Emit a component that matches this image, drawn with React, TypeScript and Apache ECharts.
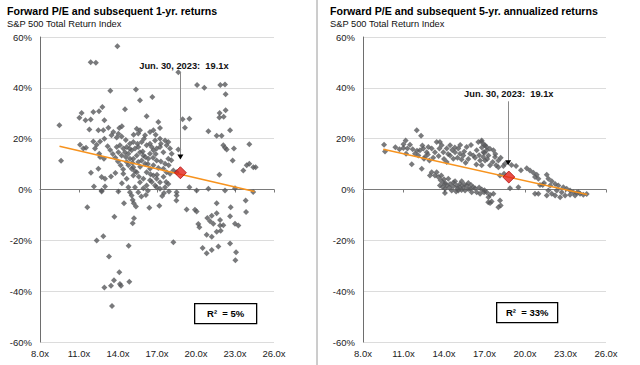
import React, { useEffect, useRef } from "react";
import * as echarts from "echarts";

const FONT = 'Arial, "Liberation Sans", Helvetica, sans-serif';

const titles = [
  "Forward P/E and subsequent 1-yr. returns",
  "Forward P/E and subsequent 5-yr. annualized returns",
];
const subtitle = "S&P 500 Total Return Index";
const annotationText = "Jun. 30, 2023:  19.1x";
const rSquaredLabels = ["R\u00B2  = 5%", "R\u00B2  = 33%"];

const xMin = 8;
const xMax = 26;
const xStep = 3;
const yMin = -60;
const yMax = 60;
const yStep = 20;

// Forward P/E vs subsequent 1-yr return (%)
const left1yr: [number, number][] = [
  [13.95, 56.4], [11.9, 50.1], [12.3, 49.9], [18.64, 46.1], [20.08, 41.1], [20.64, 40.0],
  [21.87, 41.1], [22.23, 41.3], [22.28, 37.5], [13.41, 38.9], [15.38, 39.3], [15.69, 35.1],
  [16.64, 36.4], [14.54, 31.6], [12.8, 32.5], [12.54, 30.8], [12.1, 30.5], [11.2, 30.1],
  [11.03, 28.2], [11.9, 27.5], [12.95, 27.2], [16.2, 28.8], [18.97, 27.6], [19.49, 27.8],
  [22.28, 31.2], [21.82, 30.1], [21.8, 28.3], [22.13, 28.6],
  [9.49, 25.3], [9.62, 11.3], [11.5, 27.2],
  [11.8, 23.6], [12.49, 23.3], [12.87, 23.3], [13.26, 24.3], [13.64, 22.6], [14.1, 24.2],
  [14.3, 24.9], [14.03, 21.9], [14.28, 20.9], [13.5, 21.3],
  [12.95, 20.0], [12.62, 18.9], [12.1, 18.9], [12.36, 17.6], [12.23, 16.1], [11.33, 16.1],
  [11.08, 17.6], [11.54, 16.4], [12.56, 14.1], [12.62, 12.8], [12.92, 12.1],
  [11.92, 6.6], [12.49, 8.2], [12.74, 4.9], [13.0, 4.2], [13.46, 5.1], [13.0, 1.2],
  [12.15, 1.2], [12.74, -0.4],
  [13.9, 16.7], [14.15, 17.4], [14.41, 16.1], [14.67, 16.7], [14.92, 18.0], [15.18, 18.7],
  [14.54, 14.7], [14.8, 14.1], [15.05, 15.4], [15.31, 16.1], [15.56, 16.7], [15.69, 14.7],
  [15.95, 13.4], [15.44, 13.4], [15.18, 12.1], [14.92, 12.1], [14.67, 10.8], [14.28, 13.4],
  [14.03, 14.7], [14.8, 9.5], [15.18, 8.8], [15.56, 10.8], [15.82, 11.4], [16.08, 10.1],
  [16.33, 12.1], [16.46, 14.1], [16.72, 15.4], [16.97, 16.1], [17.23, 16.7], [17.49, 14.7],
  [17.74, 17.4], [17.87, 18.7], [17.62, 19.3], [17.23, 20.0], [16.85, 19.3], [16.46, 18.0],
  [16.2, 17.4], [15.82, 18.7], [15.56, 22.0], [15.44, 23.9], [15.69, 23.3], [16.08, 21.3],
  [16.46, 22.6], [16.72, 23.3], [17.1, 26.6], [17.23, 24.2], [16.59, 16.7], [16.97, 11.4],
  [16.72, 9.5], [16.46, 8.2], [16.2, 6.8], [16.72, 5.5], [16.97, 4.2], [17.23, 2.9],
  [16.85, 1.6], [16.46, 3.6], [15.95, 4.2], [15.69, 2.9], [15.44, 6.8], [15.18, 5.5],
  [15.05, 8.2], [14.67, 4.2], [14.41, 6.2], [17.49, 8.2], [17.74, 6.8], [18.0, 6.2],
  [17.62, 10.1], [17.87, 12.1], [18.13, 14.1], [18.0, 16.1], [18.26, 7.5], [18.51, 6.8],
  [14.92, -1.1], [15.31, 0.9], [14.8, 0.9], [18.51, -1.1], [17.62, 0.9], [17.87, 2.2],
  [17.23, 0.3], [16.97, 0.9], [16.2, 1.6], [15.95, 0.5],
  [13.2, 17.0], [13.4, 15.5], [13.6, 14.0], [13.8, 12.5], [14.0, 11.0], [14.2, 9.5],
  [14.4, 8.0], [14.6, 12.8], [14.9, 16.0], [15.1, 10.5], [15.3, 7.2], [15.5, 18.0],
  [15.7, 9.0], [15.9, 15.0], [16.1, 12.8], [16.3, 10.0], [16.5, 6.0], [16.7, 12.5],
  [16.9, 14.0], [17.1, 8.5], [17.3, 11.0], [17.5, 5.0], [17.7, 3.0], [17.9, 9.5],
  [18.1, 11.5], [13.9, 20.5], [14.6, 19.5], [15.2, 21.5], [16.0, 20.0], [16.9, 21.5],
  [17.3, 18.0], [17.0, 5.8], [16.6, 3.0], [15.6, 5.0], [14.3, 2.5], [13.8, 6.5],
  [16.3, -0.5], [17.4, -2.6], [15.8, -2.8],
  [18.64, 15.7], [19.15, 24.3], [20.95, 22.9], [21.59, 21.1], [21.97, 21.1], [22.62, 23.3],
  [22.1, 17.4], [22.23, 16.4], [22.36, 15.7], [22.92, 16.1], [22.82, 11.4], [24.1, 17.8],
  [23.64, 7.5], [23.9, 9.5], [24.1, 10.1], [24.41, 8.8], [24.59, 8.8], [21.8, 5.8],
  [19.49, 0.9], [20.05, -0.4], [20.95, 0.3], [22.23, -0.4], [23.0, 0.5], [24.4, -1.0],
  [11.64, -7.0], [13.72, -10.7], [12.87, -18.4], [12.36, -20.1], [13.31, -26.4], [14.1, -32.6],
  [13.69, -35.7], [13.46, -37.9], [12.95, -38.6], [14.15, -37.2], [14.23, -37.9], [14.87, -36.3],
  [13.54, -45.8], [14.82, -22.1], [14.46, -5.4], [15.13, -4.1], [15.21, -5.4], [15.38, -6.7],
  [15.23, -11.3], [15.13, -13.3], [15.05, -2.4], [15.56, -1.1], [16.15, -2.2], [16.41, -7.2],
  [17.18, -6.4], [17.54, -1.4], [17.92, -0.8], [18.51, -2.4], [18.49, -4.3], [18.26, -20.8],
  [12.74, -0.8], [14.03, -0.8], [19.28, -7.9], [19.92, -8.0], [20.05, -8.7], [21.59, -5.4],
  [22.67, -7.0], [23.82, -4.3], [23.85, -8.9], [20.87, -11.2], [21.21, -10.3], [21.59, -9.3],
  [21.85, -12.0], [22.1, -14.1], [21.9, -16.2], [21.59, -16.6], [21.21, -18.6], [20.82, -17.8],
  [20.18, -13.6], [20.26, -14.9], [21.33, -13.5], [22.62, -10.5], [23.0, -13.5], [23.26, -14.2],
  [20.51, -23.0], [20.82, -25.1], [21.21, -23.8], [21.72, -22.4], [22.62, -21.2], [23.08, -24.7],
  [23.03, -27.8], [21.08, -12.5], [21.85, -14.2],
];

// Forward P/E vs subsequent 5-yr annualized return (%)
const right5yr: [number, number][] = [
  [9.56, 17.6], [9.63, 15.0], [11.98, 23.3], [12.3, 21.1], [11.16, 19.3], [10.99, 16.3],
  [11.29, 16.1], [11.48, 17.6], [11.68, 15.8], [11.61, 9.9], [11.19, 14.1], [11.85, 14.1],
  [12.1, 13.4], [12.22, 15.4], [12.47, 16.1], [12.72, 14.7], [12.59, 12.8], [12.84, 16.7],
  [13.09, 16.1], [13.33, 14.7], [12.35, 8.2], [12.52, 12.1], [12.92, 11.4], [13.09, 6.8],
  [13.33, 5.5], [12.96, 5.5], [13.46, 18.7], [13.7, 18.7], [13.66, 16.1], [13.95, 14.7],
  [14.2, 16.1], [14.45, 17.4], [13.83, 17.4], [14.2, 10.8], [14.45, 13.4], [14.69, 12.1],
  [14.82, 14.7], [15.06, 16.1], [15.19, 14.1], [15.43, 13.4], [15.68, 16.7], [15.93, 14.1],
  [16.17, 13.4], [16.42, 15.4], [16.54, 18.7], [16.79, 19.3], [17.04, 17.4], [17.16, 15.4],
  [16.91, 12.8], [16.67, 11.4],
  [13.46, 6.8], [13.58, 4.9], [13.75, 3.6], [13.95, 2.6], [14.2, 1.6], [14.45, 2.2],
  [14.69, 1.3], [14.94, 1.6], [15.19, 2.2], [15.43, 0.9], [15.68, 1.6], [15.93, 0.3],
  [16.17, 0.9], [16.42, -1.1], [16.67, -1.7], [13.7, 1.6], [14.08, 0.3], [14.57, -0.4],
  [15.06, -0.4], [15.56, -0.4], [16.05, -1.1], [17.16, -1.1], [17.28, -5.0], [14.32, 4.2],
  [14.82, 3.2], [15.31, 3.2], [15.8, 2.6], [14.07, -1.4],
  [16.79, 18.7], [16.97, 17.6], [17.16, 16.7], [16.92, 14.7], [17.29, 13.4], [17.66, 15.4],
  [17.78, 12.8], [17.61, 10.8], [17.41, 9.5], [17.86, 9.5], [18.03, 11.4], [17.04, 11.4],
  [16.79, 9.5], [18.03, 8.8], [18.4, 9.2], [18.52, 10.1], [19.34, 9.2], [18.15, 5.5],
  [18.45, 6.2], [18.89, 0.5], [19.51, 0.9],
  [16.97, -1.1], [17.41, -2.1], [17.66, -1.7], [17.29, -3.0], [17.53, -4.7], [17.41, -5.3],
  [18.15, -4.3], [18.2, -6.3], [18.03, -7.0],
  [20.13, 8.4], [20.37, 7.5], [20.62, 6.6], [20.74, 4.9], [20.87, 5.8], [20.99, 4.2],
  [21.61, 5.8], [21.73, 4.2], [21.41, 2.6], [21.98, 3.2], [22.23, 2.2], [22.47, 1.6],
  [22.84, 0.9], [23.09, 0.3], [23.34, -0.4], [23.58, -1.1], [23.83, -1.3], [24.08, -1.7],
  [24.32, -2.1], [24.57, -1.8], [21.86, 1.6], [22.35, -0.4], [22.72, -1.1], [22.97, -2.4],
  [23.34, -2.1], [23.71, -2.4], [23.95, -1.1], [20.99, -1.7], [20.74, -1.7], [21.73, -0.4],
  [21.98, -1.7], [22.23, -2.4], [22.6, -3.0], [21.61, -2.4], [21.31, 1.8], [21.11, 1.8],
  [14.0, 12.0], [14.3, 14.0], [14.6, 15.5], [15.0, 12.5], [15.3, 11.8], [15.5, 15.0],
  [15.8, 12.0], [16.0, 17.5], [16.3, 12.5], [16.6, 13.5], [16.8, 16.5], [17.0, 14.5],
  [17.2, 12.0], [17.4, 16.0], [15.2, 17.5], [14.8, 16.5], [13.2, 12.5], [12.8, 13.8],
  [12.0, 15.2], [11.0, 17.8], [10.7, 15.8], [10.4, 16.6], [12.4, 17.3], [13.6, 13.2],
  [16.4, 9.8], [15.6, 10.5], [17.8, 14.0], [18.2, 12.5], [19.0, 9.6], [19.7, 7.6],
  [13.8, 5.5], [14.0, 4.0], [14.1, 2.5], [14.4, 0.8], [14.7, 2.8], [15.0, 0.5],
  [15.2, 1.0], [15.5, 2.0], [15.8, 0.2], [16.0, 1.8], [16.3, 0.5], [16.6, 0.8],
  [14.9, -0.8], [15.3, -0.2], [13.9, 1.0], [16.8, 0.0], [17.0, -0.3],
];

const leftTrend: [number, number][] = [[9.5, 17.0], [24.5, -0.8]];
const rightTrend: [number, number][] = [[9.5, 15.8], [24.6, -2.0]];
const leftCurrent: [number, number][] = [[18.8, 6.6]];
const rightCurrent: [number, number][] = [[18.8, 4.9]];
// annotation anchors: [x, text y, arrow top y, arrow tip y]
const leftArrow = { x: 18.8, textX: 19.07, textY: 48.5, top: 46.2, tip: 12.8 };
const rightArrow = { x: 18.75, textX: 18.8, textY: 37.5, top: 34.7, tip: 10.5 };

function axisSet(gridIndex: number) {
  return [
    {
      type: "value",
      gridIndex,
      min: xMin,
      max: xMax,
      interval: xStep,
      axisLine: { show: true, onZero: true, lineStyle: { color: "#7a7a7a", width: 1 } },
      axisTick: { show: true, length: 3, inside: false, lineStyle: { color: "#7a7a7a" } },
      axisLabel: { show: false },
      splitLine: { show: false },
    },
    {
      type: "value",
      gridIndex,
      position: "bottom",
      min: xMin,
      max: xMax,
      interval: xStep,
      axisLine: { show: false, onZero: false },
      axisTick: { show: false },
      axisLabel: {
        show: true,
        margin: 6,
        fontSize: 9.5,
        fontFamily: FONT,
        color: "#222",
        formatter: (v: number) => v.toFixed(1) + "x",
      },
      splitLine: { show: false },
    },
  ];
}

function yAxisFor(gridIndex: number) {
  return {
    type: "value",
    gridIndex,
    min: yMin,
    max: yMax,
    interval: yStep,
    axisLine: { show: true, onZero: false, lineStyle: { color: "#6e6e6e", width: 1 } },
    axisTick: { show: false },
    axisLabel: {
      margin: 8,
      fontSize: 9.5,
      fontFamily: FONT,
      color: "#222",
      formatter: (v: number) => v + "%",
    },
    splitLine: { show: true, lineStyle: { color: "#dcdcdc", width: 1 } },
  };
}

function seriesFor(
  idx: number,
  pts: [number, number][],
  trend: [number, number][],
  current: [number, number][],
  arrow: { x: number; textX: number; textY: number; top: number; tip: number }
) {
  const xAxisIndex = idx * 2;
  const yAxisIndex = idx;
  return [
    {
      type: "scatter",
      xAxisIndex,
      yAxisIndex,
      data: pts,
      symbol: "diamond",
      symbolSize: 6,
      itemStyle: { color: "#58595b" },
      silent: true,
      z: 2,
    },
    {
      type: "line",
      xAxisIndex,
      yAxisIndex,
      data: trend,
      showSymbol: false,
      symbol: "none",
      lineStyle: { color: "#f7931e", width: 1.6 },
      silent: true,
      z: 3,
      markLine: {
        silent: true,
        symbol: ["none", "none"],
        label: { show: false },
        lineStyle: { color: "#8a8a8a", width: 1, type: "solid" },
        data: [[{ coord: [arrow.x, arrow.top] }, { coord: [arrow.x, arrow.tip] }]],
      },
      markPoint: {
        silent: true,
        data: [
          {
            coord: [arrow.x, arrow.tip],
            symbol: "triangle",
            symbolRotate: 180,
            symbolSize: [6, 5],
            itemStyle: { color: "#000" },
            label: { show: false },
          },
          {
            coord: [arrow.textX, arrow.textY],
            symbol: "circle",
            symbolSize: 0,
            itemStyle: { color: "transparent" },
            label: {
              show: true,
              position: "inside",
              formatter: annotationText,
              fontSize: 9.3,
              fontWeight: "bold",
              fontFamily: FONT,
              color: "#111",
            },
          },
        ],
      },
    },
    {
      type: "scatter",
      xAxisIndex,
      yAxisIndex,
      data: current,
      symbol: "diamond",
      symbolSize: 12,
      itemStyle: { color: "#e2231a", borderColor: "#b01010", borderWidth: 1 },
      silent: true,
      z: 4,
    },
  ];
}

export default function App() {
  const ref = useRef<HTMLDivElement>(null);
  useEffect(() => {
    if (!ref.current) return;
    const chart = echarts.init(ref.current, undefined, { renderer: "svg" });
    const titleEls = titles.map((t, i) => ({
      type: "text",
      left: i === 0 ? 7 : 330,
      top: 5,
      style: { text: t, font: `bold 10.6px ${FONT}`, fill: "#000" },
    }));
    const subEls = titles.map((_, i) => ({
      type: "text",
      left: i === 0 ? 7 : 330,
      top: 19,
      style: { text: subtitle, font: `9.3px ${FONT}`, fill: "#111" },
    }));
    const boxes = [
      { x: 194, y: 303, w: 62 },
      { x: 496, y: 302, w: 61 },
    ].map((b, i) => ({
      type: "group",
      left: b.x,
      top: b.y,
      children: [
        {
          type: "rect",
          shape: { x: 0, y: 0, width: b.w, height: 20 },
          style: { fill: "#fff", stroke: "#000", lineWidth: 1.3 },
        },
        {
          type: "text",
          x: b.w / 2,
          y: 10,
          style: {
            text: rSquaredLabels[i],
            font: `bold 9.5px ${FONT}`,
            fill: "#000",
            align: "center",
            verticalAlign: "middle",
          },
        },
      ],
    }));
    chart.setOption({
      animation: false,
      backgroundColor: "#fff",
      grid: [
        { left: 40, right: 366, top: 37, bottom: 23 },
        { left: 363, right: 34, top: 37, bottom: 23 },
      ],
      xAxis: [...axisSet(0), ...axisSet(1)],
      yAxis: [yAxisFor(0), yAxisFor(1)],
      series: [
        ...seriesFor(0, left1yr, leftTrend, leftCurrent, leftArrow),
        ...seriesFor(1, right5yr, rightTrend, rightCurrent, rightArrow),
      ],
      graphic: [
        ...titleEls,
        ...subEls,
        {
          type: "line",
          shape: { x1: 317, y1: 0, x2: 317, y2: 365 },
          style: { stroke: "#9a9a9a", lineWidth: 1 },
        },
        ...boxes,
      ],
    });
    return () => chart.dispose();
  }, []);
  return (
    <div
      ref={ref}
      style={{ position: "fixed", left: 0, top: 0, width: 640, height: 365, background: "#fff" }}
    />
  );
}
